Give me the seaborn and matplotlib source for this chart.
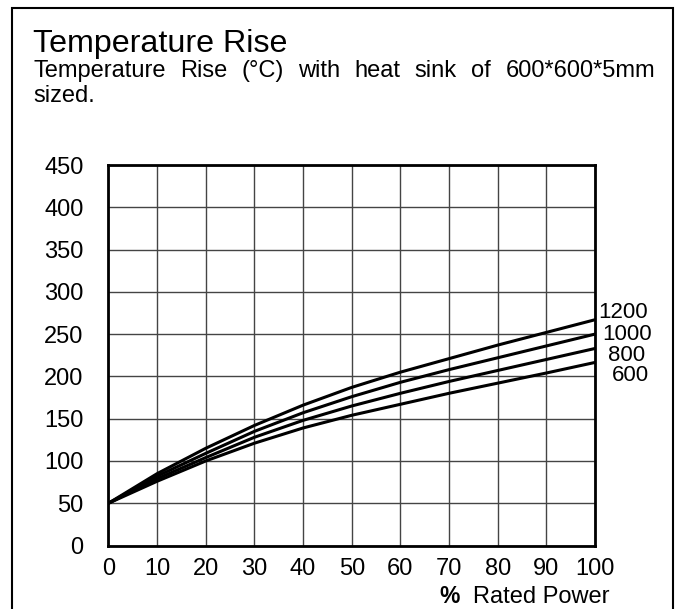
import numpy as np
import pandas as pd
from matplotlib import pyplot as plt
from matplotlib.patches import Rectangle
import seaborn as sns

# % rated power vs temperature rise, one curve per resistor size
POWER = [0, 10, 20, 30, 40, 50, 60, 70, 80, 90, 100]
RISE_1200 = [50, 85, 115, 142, 166, 187, 205, 221, 237, 252, 267]
RISE_1000 = [50, 82, 109, 135, 157, 176, 193, 208, 222, 236, 250]
RISE_800 = [50, 79, 104, 128, 148, 165, 180, 194, 207, 220, 233]
RISE_600 = [50, 76, 100, 121, 139, 154, 167, 180, 192, 204, 216.5]
SIZES = ["1200", "1000", "800", "600"]

X_TICKS = list(range(0, 101, 10))
Y_TICKS = list(range(0, 451, 50))

W, H = 681, 609

sns.set_style("white")
plt.rcParams["font.family"] = ["Liberation Sans", "DejaVu Sans"]
plt.rcParams["text.color"] = "black"

df = pd.DataFrame({
    "power": POWER * 4,
    "rise": RISE_1200 + RISE_1000 + RISE_800 + RISE_600,
    "size": np.repeat(SIZES, len(POWER)),
})

fig = plt.figure(figsize=(W / 100, H / 100), dpi=100)
ax = fig.add_axes([108.5 / W, (H - 545.5) / H, (595 - 108.5) / W, (545.5 - 165) / H])

sns.lineplot(data=df, x="power", y="rise", hue="size", palette=["black"] * 4,
             legend=False, lw=2.2, ax=ax)

ax.set_xlim(0, 100)
ax.set_ylim(0, 450)
ax.set_xticks(X_TICKS)
ax.set_yticks(Y_TICKS)
ax.grid(True, color="#444444", lw=1)
ax.set_axisbelow(True)
for s in ax.spines.values():
    s.set_visible(True)
    s.set_color("black")
    s.set_linewidth(2)
ax.tick_params(axis="both", length=0, labelsize=17, colors="black", labelcolor="black")
ax.tick_params(axis="y", pad=18)
ax.tick_params(axis="x", pad=9)
ax.set_xlabel("")
ax.set_ylabel("")

# curve labels at the right end
label_pos = {"1200": (100.6, 275), "1000": (101.4, 249), "800": (102.7, 225), "600": (103.5, 201)}
for name in SIZES:
    lx, ly = label_pos[name]
    ax.text(lx, ly, name, fontsize=16, ha="left", va="center", clip_on=False, color="black")

# x axis label
fig.text(439 / W, (H - 603) / H, "%", fontsize=16.5, fontweight="bold", va="baseline")
fig.text(473 / W, (H - 603) / H, "Rated Power", fontsize=17, va="baseline")

# headings
fig.text(33 / W, (H - 52) / H, "Temperature Rise", fontsize=23.2, va="baseline")

words = "Temperature Rise (°C) with heat sink of 600*600*5mm".split()
renderer = fig.canvas.get_renderer()
txts = [fig.text(0, (H - 77) / H, w, fontsize=17, va="baseline") for w in words]
widths = [t.get_window_extent(renderer).width for t in txts]
gap = (655 - 33 - sum(widths)) / (len(words) - 1)
x = 33
for t, wd in zip(txts, widths):
    t.set_x(x / W)
    x += wd + gap
fig.text(33 / W, (H - 102) / H, "sized.", fontsize=17, va="baseline")

# outer frame
fig.patches.append(Rectangle((12 / W, -0.05), (673 - 12) / W, (H - 8) / H + 0.05,
                             transform=fig.transFigure, fill=False, ec="black", lw=1.5))

fig.savefig("out.png", dpi=100)
